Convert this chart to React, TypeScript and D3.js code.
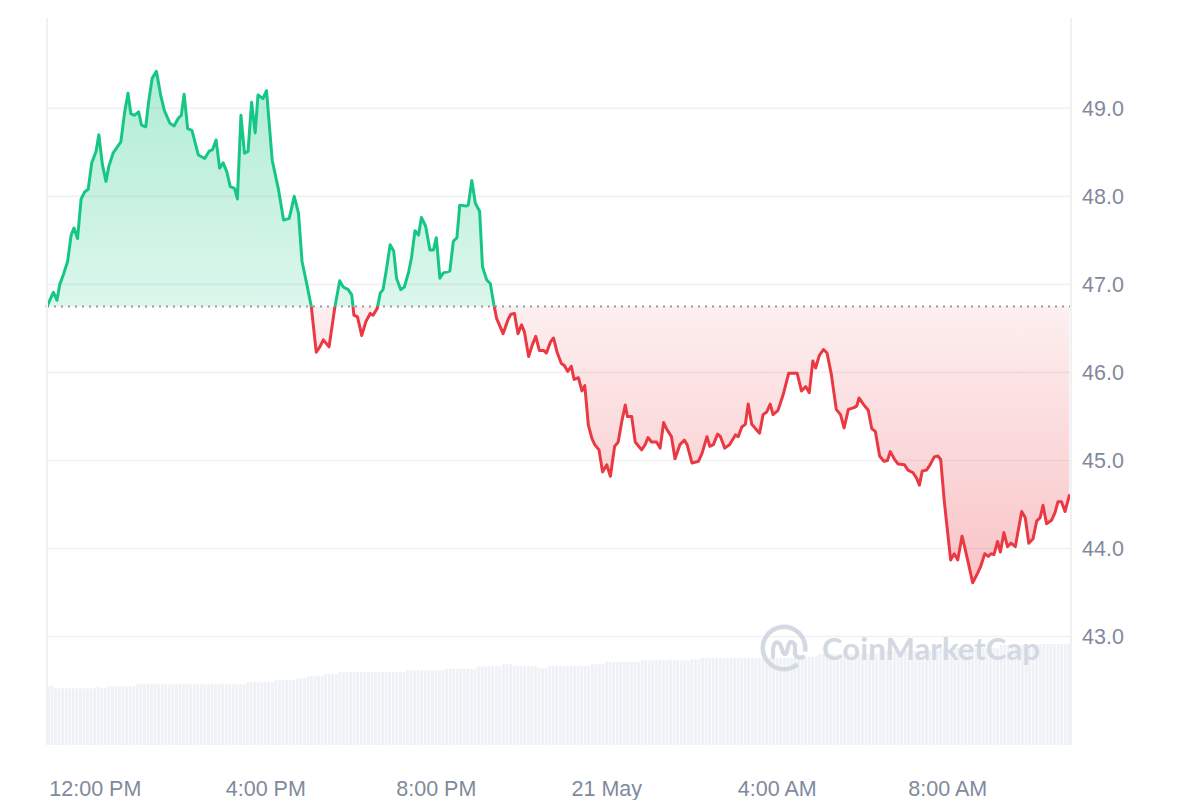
import React from 'react';
import * as d3 from 'd3';

// Price series: minutes after the window start, and price (USD)
const priceMinutes = [
  0, 9, 14, 18, 23, 29, 34, 38, 43, 48,
  53, 58, 63, 69, 73, 78, 83, 87, 93, 98,
  104, 109, 114, 118, 123, 129, 133, 139, 143, 148,
  154, 160, 165, 173, 179, 185, 189, 193, 198, 204,
  213, 222, 228, 233, 238, 243, 248, 253, 258, 264,
  268, 273, 278, 283, 288, 293, 297, 304, 309, 317,
  326, 333, 341, 348, 354, 359, 365, 372, 379, 384,
  389, 397, 405, 412, 417, 424, 429, 432, 437, 443,
  449, 455, 459, 465, 469, 473, 478, 483, 488, 492,
  498, 503, 509, 513, 518, 523, 527, 533, 539, 544,
  548, 553, 558, 567, 572, 577, 581, 590, 593, 598,
  603, 609, 613, 619, 624, 629, 633, 642, 649, 653,
  658, 663, 668, 672, 678, 683, 688, 693, 699, 703,
  709, 713, 718, 724, 728, 733, 738, 742, 748, 753,
  757, 762, 767, 771, 777, 782, 788, 793, 799, 804,
  809, 814, 817, 823, 828, 837, 842, 846, 851, 858,
  863, 868, 872, 879, 884, 891, 897, 901, 908, 917,
  922, 929, 933, 938, 944, 948, 954, 961, 969, 973,
  978, 983, 987, 992, 1003, 1008, 1013, 1018, 1022, 1029,
  1036, 1044, 1056, 1062, 1068, 1073, 1078, 1082, 1087, 1093,
  1098, 1104, 1111, 1117, 1122, 1128, 1136, 1140, 1143, 1149,
  1156, 1161, 1166, 1172, 1178, 1183, 1187, 1194, 1198, 1207,
  1212, 1219, 1224, 1228, 1232, 1238, 1243, 1249, 1254, 1258,
  1263, 1267, 1272, 1277, 1282, 1288, 1292, 1297, 1303, 1310,
  1314, 1320, 1325, 1329, 1333, 1338, 1342, 1347, 1352, 1357,
  1363, 1372, 1377, 1382, 1388, 1393, 1398, 1402, 1407, 1414,
  1419, 1423, 1428, 1433, 1439,
];

const priceValues = [
  46.75, 46.91, 46.82, 47.00, 47.11, 47.26, 47.56, 47.64, 47.52, 47.97,
  48.05, 48.08, 48.38, 48.51, 48.70, 48.36, 48.17, 48.34, 48.49, 48.55,
  48.62, 48.94, 49.17, 48.94, 48.92, 48.96, 48.81, 48.79, 49.07, 49.34,
  49.42, 49.15, 48.98, 48.83, 48.80, 48.89, 48.92, 49.16, 48.77, 48.75,
  48.47, 48.43, 48.51, 48.53, 48.64, 48.32, 48.38, 48.28, 48.11, 48.09,
  47.97, 48.92, 48.49, 48.51, 49.07, 48.72, 49.15, 49.11, 49.20, 48.41,
  48.07, 47.73, 47.75, 48.00, 47.81, 47.26, 47.03, 46.75, 46.23, 46.29,
  46.37, 46.29, 46.73, 47.04, 46.97, 46.94, 46.88, 46.65, 46.63, 46.42,
  46.58, 46.67, 46.65, 46.73, 46.90, 46.94, 47.18, 47.45, 47.38, 47.07,
  46.94, 46.97, 47.14, 47.30, 47.61, 47.56, 47.76, 47.66, 47.39, 47.39,
  47.53, 47.07, 47.13, 47.15, 47.49, 47.53, 47.90, 47.89, 47.90, 48.18,
  47.92, 47.83, 47.20, 47.05, 47.01, 46.77, 46.61, 46.44, 46.60, 46.66,
  46.67, 46.44, 46.54, 46.46, 46.18, 46.31, 46.41, 46.25, 46.25, 46.22,
  46.35, 46.39, 46.23, 46.10, 46.08, 46.01, 46.07, 45.92, 45.94, 45.79,
  45.85, 45.40, 45.25, 45.18, 45.12, 44.87, 44.95, 44.82, 45.16, 45.21,
  45.44, 45.63, 45.50, 45.50, 45.21, 45.12, 45.18, 45.26, 45.21, 45.21,
  45.14, 45.43, 45.36, 45.27, 45.02, 45.18, 45.23, 45.18, 44.97, 44.99,
  45.08, 45.27, 45.16, 45.18, 45.30, 45.27, 45.14, 45.18, 45.29, 45.27,
  45.38, 45.41, 45.64, 45.41, 45.31, 45.52, 45.55, 45.64, 45.52, 45.57,
  45.74, 45.99, 45.99, 45.79, 45.84, 45.77, 46.13, 46.05, 46.19, 46.26,
  46.22, 45.98, 45.58, 45.52, 45.37, 45.58, 45.60, 45.62, 45.71, 45.64,
  45.57, 45.36, 45.33, 45.05, 44.99, 45.00, 45.10, 45.00, 44.96, 44.95,
  44.89, 44.86, 44.80, 44.72, 44.88, 44.89, 44.95, 45.04, 45.05, 45.01,
  44.54, 44.24, 43.87, 43.94, 43.87, 44.14, 44.01, 43.83, 43.61, 43.72,
  43.79, 43.94, 43.91, 43.94, 43.93, 44.08, 43.96, 44.18, 44.02, 44.06,
  44.02, 44.42, 44.35, 44.06, 44.11, 44.31, 44.35, 44.49, 44.28, 44.32,
  44.41, 44.53, 44.53, 44.42, 44.60,
];

const openPrice = 46.75;

// Volume plateaus: [number of 5-minute bars, volume level]
const volumeRuns: [number, number][] = [
  [2, 59], [12, 56.7], [1, 58.3], [2, 57], [8, 58.7], [31, 60.7], [8, 62.7],
  [6, 65], [3, 66.7], [5, 68.7], [4, 71], [19, 73], [11, 74.7], [9, 76.3],
  [7, 78.7], [3, 80.7], [7, 78.7], [3, 76.7], [12, 79], [4, 80.7], [10, 83],
  [14, 84.7], [1, 86.3], [2, 85.7], [28, 87], [5, 88.3], [17, 91], [17, 94],
  [17, 97], [11, 100], [9, 101],
];

const yTickValues = [43, 44, 45, 46, 47, 48, 49];
const xTickHours = [12, 16, 20, 24, 28, 32];
const xTickLabels = ['12:00 PM', '4:00 PM', '8:00 PM', '21 May', '4:00 AM', '8:00 AM'];

const windowStart = new Date(2024, 4, 20, 10, 52);
const windowEnd = new Date(2024, 4, 21, 10, 52);
const dayStart = new Date(2024, 4, 20, 0, 0);

const GREEN = '#16c784';
const RED = '#ea3943';
const LABEL = '#808a9d';
const FONT = "'Liberation Sans', Arial, Helvetica, sans-serif";

export default function App() {
  const W = 1200;
  const H = 800;
  const left = 47;
  const right = 1070;

  const x = d3.scaleTime().domain([windowStart, windowEnd]).range([left, right]);
  const y = d3.scaleLinear().domain([43, 49]).range([636.5, 108.3]);
  const yVol = d3.scaleLinear().domain([0, 110]).range([745, 635]);

  const data = priceMinutes.map((m, i) => ({ t: d3.timeMinute.offset(windowStart, m), v: priceValues[i] }));
  const volumes: number[] = volumeRuns.flatMap(([n, v]) => Array(n).fill(v));
  const xb = d3.scaleBand<number>().domain(d3.range(volumes.length)).range([left, right]).paddingInner(0.22);

  const yBase = y(openPrice);

  const line = d3.line<{ t: Date; v: number }>().x(d => x(d.t)).y(d => y(d.v));
  const area = d3.area<{ t: Date; v: number }>().x(d => x(d.t)).y0(yBase).y1(d => y(d.v));
  const linePath = line(data) || '';
  const areaPath = area(data) || '';

  const yFmt = d3.format('.1f');

  // logo
  const logoCx = 784;
  const logoCy = 648;
  const ring = d3.arc()({ innerRadius: 19, outerRadius: 23.5, startAngle: (140 / 180) * Math.PI, endAngle: (460 / 180) * Math.PI }) || '';

  return (
    <svg width={W} height={H} style={{ position: 'absolute', left: 0, top: 0, background: '#fff' }}>
      <defs>
        <clipPath id="clipAbove">
          <rect x={0} y={0} width={W} height={yBase} />
        </clipPath>
        <clipPath id="clipBelow">
          <rect x={0} y={yBase} width={W} height={H - yBase} />
        </clipPath>
        <linearGradient id="gGreen" gradientUnits="userSpaceOnUse" x1={0} x2={0} y1={y(49.45)} y2={yBase}>
          <stop offset="0" stopColor={GREEN} stopOpacity={0.34} />
          <stop offset="1" stopColor={GREEN} stopOpacity={0.15} />
        </linearGradient>
        <linearGradient id="gRed" gradientUnits="userSpaceOnUse" x1={0} x2={0} y1={yBase} y2={y(43.6)}>
          <stop offset="0" stopColor={RED} stopOpacity={0.08} />
          <stop offset="1" stopColor={RED} stopOpacity={0.3} />
        </linearGradient>
      </defs>

      {/* gridlines */}
      {yTickValues.map(v => (
        <line key={v} x1={left} x2={right + 1} y1={y(v)} y2={y(v)} stroke="#eff1f4" strokeWidth={1.6} />
      ))}

      {/* volume bars */}
      {volumes.map((v, i) => (
        <rect key={i} x={xb(i)} y={yVol(v)} width={xb.bandwidth()} height={yVol(0) - yVol(v)} fill="#eef1f5" />
      ))}

      {/* watermark */}
      <g transform={`translate(${logoCx},${logoCy})`} fill="none">
        <path d={ring} fill="#d3d9e3" />
        <path d="M-11,9 L-11,2 Q-10,-9 -4,-4 L-1,4 Q2,10 4,-1 Q6,-10 11,-3 L11,6 Q13,11 19,9"
          stroke="#d3d9e3" strokeWidth={4.2} strokeLinecap="round" strokeLinejoin="round" />
      </g>
      <text x={822} y={660} fontFamily="Lato, 'Open Sans', Arial, sans-serif" fontWeight={700} fontSize={30}
        fill="#d3d9e3" textLength={218} lengthAdjust="spacingAndGlyphs">CoinMarketCap</text>

      {/* fills */}
      <path d={areaPath} fill="url(#gGreen)" clipPath="url(#clipAbove)" />
      <path d={areaPath} fill="url(#gRed)" clipPath="url(#clipBelow)" />

      {/* open-price dotted line */}
      <line x1={left} x2={right} y1={yBase} y2={yBase} stroke="#9a9a9a" strokeWidth={2} strokeDasharray="2 5" />

      {/* price line */}
      <path d={linePath} fill="none" stroke={GREEN} strokeWidth={3} strokeLinejoin="round" strokeLinecap="round" clipPath="url(#clipAbove)" />
      <path d={linePath} fill="none" stroke={RED} strokeWidth={3} strokeLinejoin="round" strokeLinecap="round" clipPath="url(#clipBelow)" />

      {/* frame verticals */}
      <line x1={left} x2={left} y1={18} y2={745} stroke="#eff2f5" strokeWidth={2} />
      <line x1={right + 1} x2={right + 1} y1={18} y2={745} stroke="#eff2f5" strokeWidth={2} />

      {/* y labels */}
      {yTickValues.map(v => (
        <text key={v} x={1082} y={y(v)} dy="0.35em" fontFamily={FONT} fontSize={21.5} fill={LABEL}>{yFmt(v)}</text>
      ))}

      {/* x labels */}
      {xTickHours.map((h, i) => (
        <text key={h} x={x(d3.timeHour.offset(dayStart, h))} y={796} textAnchor="middle" fontFamily={FONT} fontSize={21.5} fill={LABEL}>
          {xTickLabels[i]}
        </text>
      ))}
    </svg>
  );
}
